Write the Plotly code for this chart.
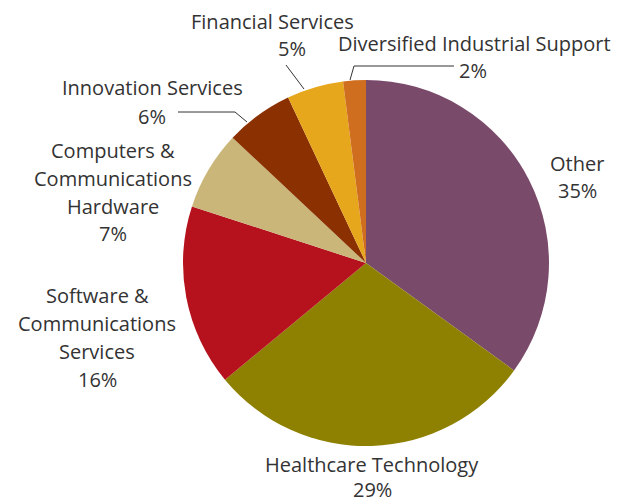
import plotly.graph_objects as go

categories = ["Other", "Healthcare Technology", "Software & Communications Services",
              "Computers & Communications Hardware", "Innovation Services",
              "Financial Services", "Diversified Industrial Support"]
shares = [35, 29, 16, 7, 6, 5, 2]
colors = ["#7A4A6B", "#8E8000", "#B5121E", "#CAB679", "#8B3000", "#E6A71C", "#D06E1F"]

# The page body has an 8px margin, so the figure is offset by 8px.
OFF = 8
W, H = 623 - OFF, 504 - OFF

# label lines (text lines, center px positions in the reference picture)
label_lines = {
    "Other": (["Other"], 577, 163),
    "Healthcare Technology": (["Healthcare Technology"], 372, 464),
    "Software & Communications Services": (["Software &", "Communications", "Services"], 97, 295),
    "Computers & Communications Hardware": (["Computers &", "Communications", "Hardware"], 113, 150),
    "Innovation Services": (["Innovation Services"], 152, 88),
    "Financial Services": (["Financial Services"], 272, 21),
    "Diversified Industrial Support": (["Diversified Industrial Support"], 474, 43),
}
pct_pos = {
    "Healthcare Technology": (372, 489),
    "Financial Services": (292, 48),
    "Diversified Industrial Support": (473, 71),
    "Innovation Services": (152, 116),
}

def px(x):
    return (x - OFF) / W

def py(y):
    return 1 - (y - OFF) / H

cx, cy, r = 366, 263, 183

fig = go.Figure(go.Pie(
    labels=categories, values=shares, sort=False, direction="clockwise", rotation=0,
    marker=dict(colors=colors, line=dict(width=0)),
    textinfo="none", hoverinfo="label+percent", showlegend=False,
    domain=dict(x=[px(cx - r), px(cx + r)], y=[py(cy + r), py(cy - r)]),
))

LS = 28
annotations = []
font = dict(family="Open Sans, Noto Sans, sans-serif", size=20, color="#333333")
for cat, val in zip(categories, shares):
    lines, x, y0 = label_lines[cat]
    for i, t in enumerate(lines):
        annotations.append(dict(text=t, x=px(x), y=py(y0 + i * LS), xref="paper", yref="paper",
                                xanchor="center", yanchor="middle", showarrow=False, font=font,
                                borderpad=0))
    if cat in pct_pos:
        x2, y2 = pct_pos[cat]
    else:
        x2, y2 = x, y0 + len(lines) * LS
    annotations.append(dict(text=f"{val}%", x=px(x2), y=py(y2), xref="paper", yref="paper",
                            xanchor="center", yanchor="middle", showarrow=False, font=font,
                            borderpad=0))

leaders = [
    [(286, 65), (304, 89)],
    [(454, 66), (354, 66), (350, 80)],
    [(178, 112), (235, 112), (247, 122)],
]
shapes = []
for pts in leaders:
    path = "M " + " L ".join(f"{px(a):.5f},{py(b):.5f}" for a, b in pts)
    shapes.append(dict(type="path", path=path, xref="paper", yref="paper",
                       line=dict(color="#333333", width=1)))

fig.update_layout(width=W, height=H, margin=dict(l=0, r=0, t=0, b=0),
                  paper_bgcolor="white", plot_bgcolor="white",
                  annotations=annotations, shapes=shapes)
fig.write_html("out.html")
